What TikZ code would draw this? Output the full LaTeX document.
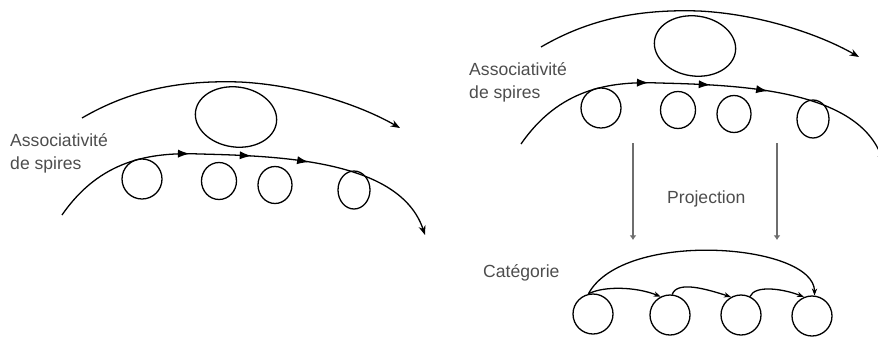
\documentclass[tikz,border=0pt]{standalone}
\usepackage{fontspec}
\setmainfont{Liberation Sans}
\usetikzlibrary{arrows.meta, decorations.markings, shapes.geometric}
\definecolor{texte}{HTML}{4D4D4D}
\definecolor{gris}{HTML}{6E6E6E}
\tikzset{
  fil/.style = {line width=1.1pt},
  spire/.style = {draw, ellipse, line width=1.1pt, inner sep=0pt},
  cercle/.style = {draw, circle, line width=1.1pt, inner sep=0pt, minimum size=1.2cm},
  etiquette/.style = {font=\fontsize{15}{19}\selectfont, text=texte, inner sep=0pt, anchor=base west, align=left},
  projection/.style = {draw=gris, line width=2pt, -{Latex[length=4pt, width=6pt]}},
  fleches/.style = {postaction={decorate}, decoration={markings,
      mark=at position 0.36 with {\arrow{Latex[length=10pt, width=7pt]}},
      mark=at position 0.51 with {\arrow{Latex[length=10pt, width=7pt]}},
      mark=at position 0.65 with {\arrow{Latex[length=10pt, width=7pt]}}}},
  spires/.pic = {
    \draw[fil, -{Stealth[length=8pt, width=6pt]}] (82,118)
      .. controls (130,90) and (180,80) .. (240,82)
      .. controls (300,85) and (360,105) .. (400,128);
    \node[spire, minimum width=2.45cm, minimum height=1.8cm, rotate=-8] (grande) at (236,117) {};
    \draw[fil, fleches, -{Stealth[length=8pt, width=6pt]}] (62,215)
      .. controls (100,160) and (150,152) .. (200,154)
      .. controls (280,156) and (400,160) .. (425,235);
    \node[spire, minimum width=1.2cm, minimum height=1.2cm] (s1) at (142,179) {};
    \node[spire, minimum width=1.05cm, minimum height=1.11cm] (s2) at (219,181) {};
    \node[spire, minimum width=1.02cm, minimum height=1.11cm] (s3) at (275,185) {};
    \node[spire, minimum width=0.96cm, minimum height=1.14cm] (s4) at (354,190) {};
    \node[etiquette] (assoc) at (10,169) {Associativité\\de spires};
  }
}

\begin{document}
\begin{tikzpicture}[x=0.03cm, y=-0.03cm]
  \useasboundingbox (0,0) rectangle (878,340);

  \pic (G) at (0,0) {spires};
  \pic (D) at (459,-71) {spires};

  % projection vers la categorie
  \coordinate (p1) at (633,143);
  \coordinate (q1) at (633,240);
  \coordinate (p2) at (777,143);
  \coordinate (q2) at (777,240);
  \draw[projection] (p1) -- (q1);
  \draw[projection] (p2) -- (q2);
  \node[etiquette] (proj) at (667,203) {Projection};

  \node[etiquette] (cat) at (483,277) {Catégorie};
  \node[cercle] (c1) at (593,314) {};
  \node[cercle] (c2) at (670,315) {};
  \node[cercle] (c3) at (741,315) {};
  \node[cercle] (c4) at (812,316) {};

  \draw[fil, -{Stealth[length=6pt]}] (c1.103) .. controls +(15,-8) and +(-25,-10) .. (c2.117);
  \draw[fil, -{Stealth[length=6pt]}] (c2.84) .. controls +(5,-14) and +(-25,-8) .. (c3.119);
  \draw[fil, -{Stealth[length=6pt]}] (c3.64) .. controls +(5,-12) and +(-20,-8) .. (c4.113);
  \draw[fil, -{Stealth[length=6pt]}] (c1.103) .. controls +(35,-65) and +(0,-52) .. (c4.83);
\end{tikzpicture}
\end{document}
